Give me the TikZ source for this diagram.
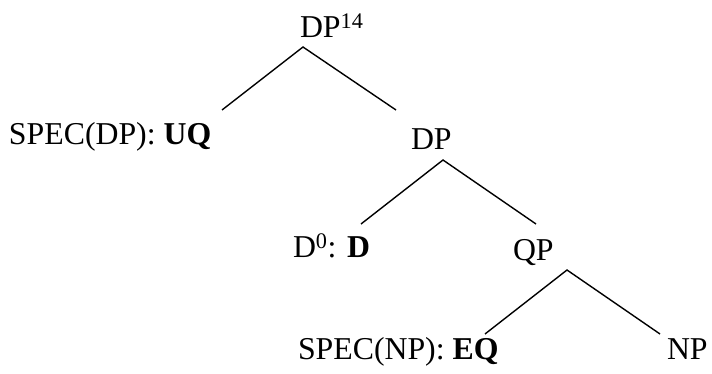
\documentclass[tikz,border=0pt]{standalone}
\usepackage{fontspec}
\setmainfont{Liberation Serif}
\begin{document}
\begin{tikzpicture}[x=1pt,y=-1pt,
  lbl/.style={anchor=base west,inner sep=0pt,outer sep=0pt,font=\fontsize{31.8}{38}\selectfont},
  branch/.style={line width=1.4pt,line cap=butt}]
\useasboundingbox (0,0) rectangle (712,374);
% labels
\node[lbl] (top)  at (300,38)  {DP\textsuperscript{14}};
\node[lbl] (spec) at (9,145)   {SPEC(DP): \textbf{UQ}};
\node[lbl] (dp)   at (411,150) {DP};
\node[lbl] (d0)   at (293,258) {D\textsuperscript{0}: \textbf{D}};
\node[lbl] (qp)   at (513,260) {QP};
\node[lbl] (specn) at (298,359) {SPEC(NP): \textbf{EQ}};
\node[lbl] (np)   at (667,359) {NP};
% branch points
\coordinate (a1) at (303,47);  \coordinate (l1) at (222,110); \coordinate (r1) at (396,110);
\coordinate (a2) at (443,160); \coordinate (l2) at (361,224); \coordinate (r2) at (536,224);
\coordinate (a3) at (567,270); \coordinate (l3) at (485,334); \coordinate (r3) at (660,334);
\draw[branch] (l1) -- (a1) -- (r1);
\draw[branch] (l2) -- (a2) -- (r2);
\draw[branch] (l3) -- (a3) -- (r3);
\end{tikzpicture}
\end{document}
